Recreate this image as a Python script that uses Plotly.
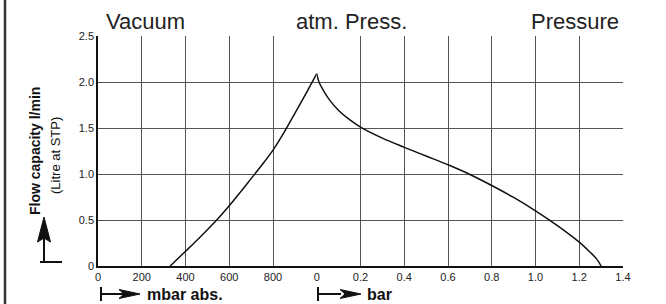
import plotly.graph_objects as go

# ---- data ----
vac_mbar = [330, 400, 450, 500, 550, 600, 650, 700, 750, 800, 850, 900, 950, 1000]
vac_flow = [0.0, 0.16, 0.275, 0.395, 0.52, 0.655, 0.80, 0.95, 1.10, 1.26, 1.45, 1.66, 1.87, 2.09]

prs_bar = [0.0, 0.01, 0.03, 0.06, 0.10, 0.15, 0.20, 0.30, 0.40, 0.50, 0.60, 0.70, 0.80, 0.90, 1.00, 1.10, 1.20, 1.25, 1.28, 1.30]
prs_flow = [2.09, 2.00, 1.91, 1.80, 1.69, 1.59, 1.51, 1.39, 1.29, 1.195, 1.10, 0.995, 0.875, 0.745, 0.60, 0.44, 0.26, 0.15, 0.075, 0.0]

mbar_ticks = [0, 200, 400, 600, 800]
mbar_labels = ["0", "200", "400", "600", "800"]
bar_ticks = [0, 0.2, 0.4, 0.6, 0.8, 1.0, 1.2, 1.4]
bar_labels = ["0", "0.2", "0.4", "0.6", "0.8", "1.0", "1.2", "1.4"]
flow_ticks = [0, 0.5, 1.0, 1.5, 2.0, 2.5]
flow_labels = ["0", "0.5", "1.0", "1.5", "2.0", "2.5"]

# ---- figure ----
W, H = 666, 304
ML, MR, MT, MB = 98, 43, 36, 38
PW, PH = W - ML - MR, H - MT - MB

def px(x):
    return (x - ML) / PW

def py(y):
    return (H - MB - y) / PH

fig = go.Figure()
fig.add_trace(go.Scatter(x=vac_mbar, y=vac_flow, xaxis="x", yaxis="y", mode="lines",
                         line=dict(color="#111", width=1.5, shape="spline", smoothing=1.0),
                         showlegend=False, hoverinfo="skip"))
fig.add_trace(go.Scatter(x=prs_bar, y=prs_flow, xaxis="x2", yaxis="y", mode="lines",
                         line=dict(color="#111", width=1.5, shape="spline", smoothing=1.0),
                         showlegend=False, hoverinfo="skip"))

tickfont = dict(family="Liberation Sans Narrow, Liberation Sans, Arial, sans-serif", size=11, color="#222")
grid = dict(showgrid=True, gridcolor="#555", gridwidth=1, zeroline=False, ticks="",
            showline=True, linecolor="#111", linewidth=1.5, tickfont=tickfont)

split = 5 / 12
fig.update_layout(
    width=W, height=H,
    margin=dict(l=ML, r=MR, t=MT, b=MB, pad=0),
    paper_bgcolor="white", plot_bgcolor="white",
    xaxis=dict(domain=[0, split], range=[0, 1000], tickmode="array",
               tickvals=mbar_ticks, ticktext=mbar_labels, anchor="y", **grid),
    xaxis2=dict(domain=[split, 1], range=[0, 1.4], tickmode="array",
                tickvals=bar_ticks, ticktext=bar_labels, anchor="y", **grid),
    yaxis=dict(range=[0, 2.5], tickmode="array", tickvals=flow_ticks,
               ticktext=flow_labels, anchor="x", **grid),
)

title_font = dict(family="Liberation Sans, Arial, sans-serif", size=22, color="#222")
ann = [
    dict(text="Vacuum", x=px(104), y=py(22), xanchor="left", yanchor="middle", font=title_font),
    dict(text="atm. Press.", x=px(351), y=py(22), xanchor="center", yanchor="middle", font=title_font),
    dict(text="Pressure", x=px(621), y=py(22), xanchor="right", yanchor="middle", font=title_font),
    dict(text="<b>Flow capacity l/min</b>", x=px(35), y=py(151), textangle=-90,
         xanchor="center", yanchor="middle",
         font=dict(family="Liberation Sans, Arial, sans-serif", size=14, color="#111")),
    dict(text="(Litre at STP)", x=px(55), y=py(156), textangle=-90,
         xanchor="center", yanchor="middle",
         font=dict(family="Liberation Sans, Arial, sans-serif", size=13, color="#111")),
    dict(text="<b>mbar abs.</b>", x=px(145), y=py(294), xanchor="left", yanchor="middle",
         font=dict(family="Liberation Sans, Arial, sans-serif", size=16, color="#111")),
    dict(text="<b>bar</b>", x=px(365), y=py(294), xanchor="left", yanchor="middle",
         font=dict(family="Liberation Sans, Arial, sans-serif", size=16, color="#111")),
]
for a in ann:
    a.update(xref="paper", yref="paper", showarrow=False)
fig.update_layout(annotations=ann)

def line(x0, y0, x1, y1, w=2, c="#111"):
    return dict(type="line", xref="paper", yref="paper", x0=px(x0), y0=py(y0), x1=px(x1), y1=py(y1),
                line=dict(color=c, width=w))

def tri(points):
    p = "M " + " L ".join(f"{px(a)},{py(b)}" for a, b in points) + " Z"
    return dict(type="path", xref="paper", yref="paper", path=p,
                fillcolor="#111", line=dict(color="#111", width=1))

shapes = [
    # left frame line
    line(5, 0, 5, 304, w=2.5, c="#333"),
    # y-title arrow
    line(44, 262, 44, 238),
    line(40, 262, 62, 262),
    tri([(44, 217), (50.5, 242), (44, 238), (37.5, 242)]),
    # mbar arrow
    line(101, 287, 101, 301),
    line(101, 294, 124, 294),
    tri([(140, 294), (119, 289.5), (124, 294), (119, 298.5)]),
    # bar arrow
    line(318, 287, 318, 301),
    line(318, 294, 341, 294),
    tri([(361, 294), (340, 289.5), (345, 294), (340, 298.5)]),
]
fig.update_layout(shapes=shapes)

fig.write_html("out.html", config={"displayModeBar": False},
               post_script="document.body.style.margin='0px';")
